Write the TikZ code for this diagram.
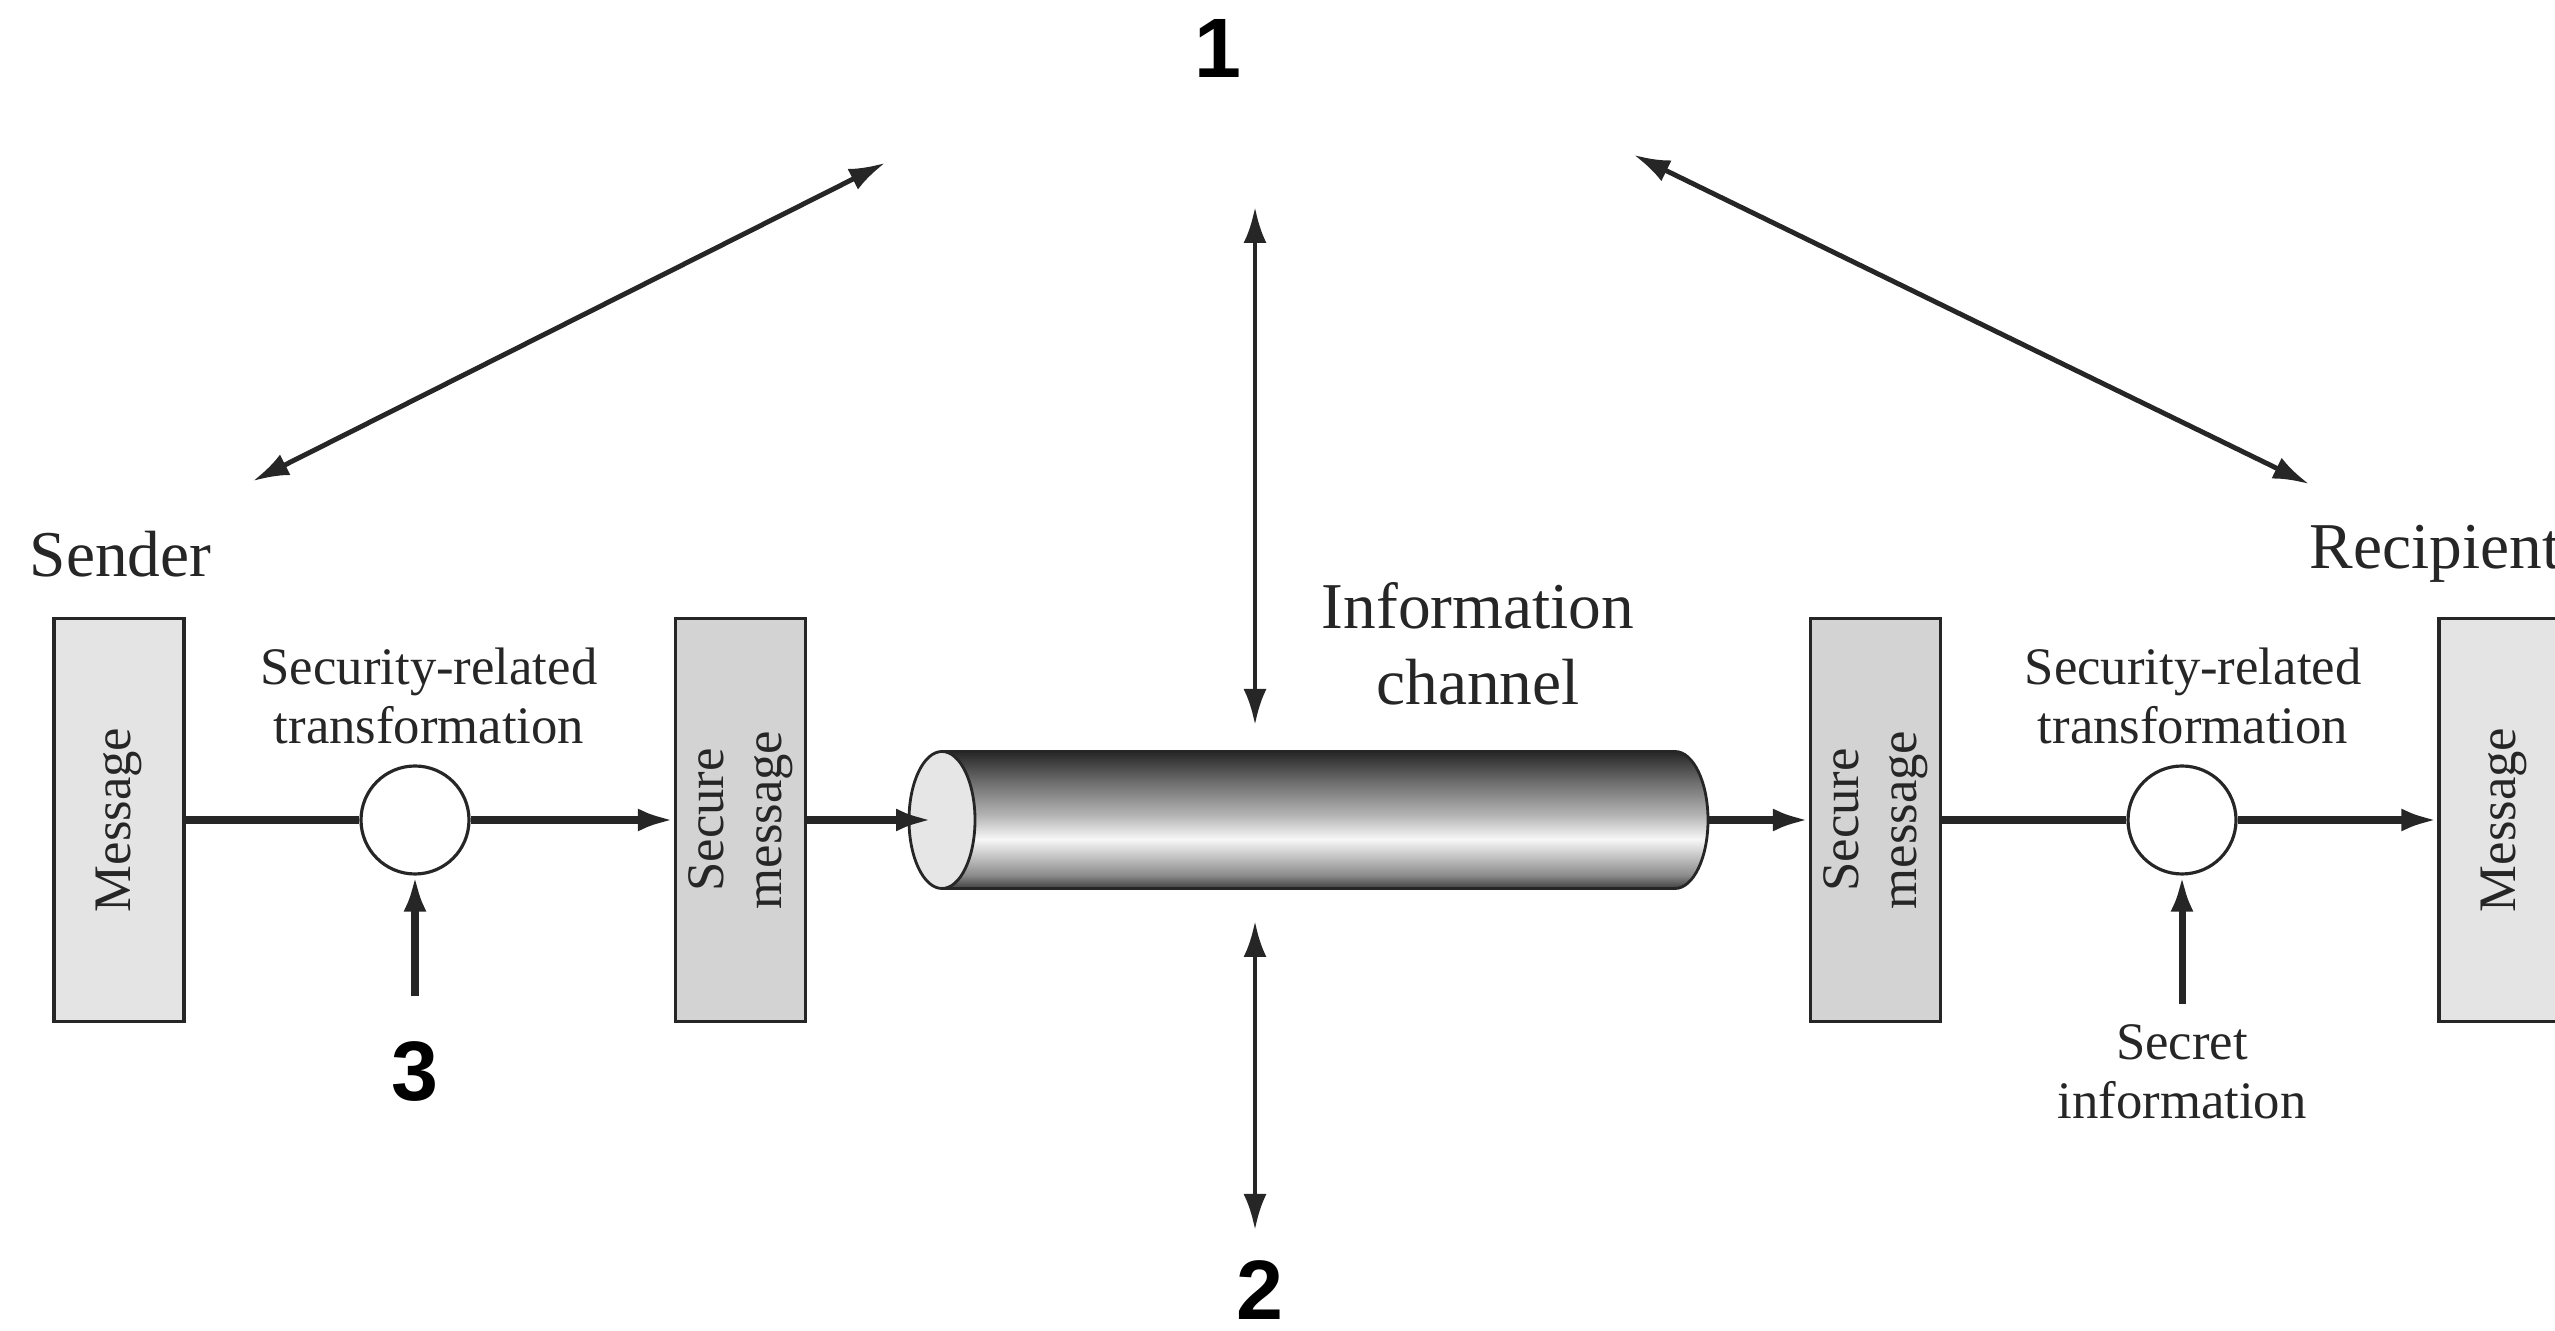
\documentclass[tikz,border=0pt]{standalone}
\usepackage{fontspec}
\setmainfont{Liberation Serif}
\newfontfamily\numfont{Liberation Sans}
\usetikzlibrary{arrows.meta}
\definecolor{msgfill}{HTML}{E4E4E4}
\definecolor{secfill}{HTML}{D3D3D3}
\definecolor{facefill}{HTML}{E6E6E6}
\definecolor{ink}{HTML}{262626}
% pipe body: dark rim, bright band a third up from the bottom
\pgfdeclareverticalshading{pipe}{100bp}{color(0bp)=(black!75); color(25bp)=(black!75); color(30bp)=(black!45); color(43bp)=(black!3); color(52bp)=(black!30); color(63bp)=(black!55); color(75bp)=(black!85); color(100bp)=(black!85)}

\begin{document}
\begin{tikzpicture}[
  box/.style={draw=ink,line width=0.9pt,minimum width=1.3cm,minimum height=4.03cm,inner sep=0pt},
  msg/.style={box,fill=msgfill},
  smsg/.style={box,fill=secfill},
  boxtext/.style={rotate=90,align=center,inner sep=0pt,text=ink,font=\fontsize{15}{16.5}\selectfont},
  xform/.style={circle,draw=ink,line width=0.9pt,fill=white,minimum size=1.08cm,inner sep=0pt},
  lbl/.style={align=center,inner sep=0pt,text=ink,font=\fontsize{18.6}{21.5}\selectfont},
  small/.style={align=center,inner sep=0pt,text=ink,font=\fontsize{15}{16.8}\selectfont},
  num/.style={inner sep=0pt,font=\numfont\bfseries\fontsize{24}{26}\selectfont},
  flow/.style={draw=ink,line width=2pt},
  arr/.style={flow,-{Latex[length=3.6mm,width=2.3mm]}},
  both/.style={draw=ink,line width=1.4pt,{Latex[length=3.6mm,width=2.3mm]}-{Latex[length=3.6mm,width=2.3mm]}}]
  \useasboundingbox (0,0) rectangle (25.55,13.31);
  % sender side
  \node[lbl,anchor=west] (sender) at (0.29,7.77) {Sender};
  \node[msg,label={[boxtext]center:Message}] (lmsg) at (1.19,5.11) {};
  \node[xform] (lt) at (4.15,5.11) {};
  \node[small] (ltlbl) at (4.29,6.35) {Security-related\\transformation};
  \node[smsg,label={[boxtext]center:Secure\\message}] (lsec) at (7.405,5.11) {};
  \node[num] (three) at (4.15,2.59) {3};
  % channel
  \shadedraw[shading=pipe,draw=ink,line width=0.8pt] (9.42,5.795) -- (16.75,5.795)
    arc[start angle=90,end angle=-90,x radius=0.33,y radius=0.685] -- (9.42,4.425) -- cycle;
  \draw[draw=ink,line width=0.8pt,fill=facefill] (9.42,5.11) ellipse [x radius=0.33,y radius=0.685];
  \coordinate (pipein) at (9.32,5.11);
  \coordinate (pipeout) at (17.08,5.11);
  \node[lbl] (chanlbl) at (14.78,6.87) {Information\\channel};
  % recipient side
  \node[smsg,label={[boxtext]center:Secure\\message}] (rsec) at (18.755,5.11) {};
  \node[xform] (rt) at (21.82,5.11) {};
  \node[small] (rtlbl) at (21.93,6.35) {Security-related\\transformation};
  \node[small] (secret) at (21.82,2.59) {Secret\\information};
  \node[msg,label={[boxtext]center:Message}] (rmsg) at (25.04,5.11) {};
  \node[lbl,anchor=west] (recip) at (23.09,7.77) {Recipient};
  % attack points
  \node[num] (one) at (12.18,12.82) {1};
  \node[num] (two) at (12.60,0.41) {2};
  \coordinate (snd) at (2.53,8.50);
  \coordinate (sndtop) at (8.85,11.68);
  \coordinate (chtop) at (12.55,11.24);
  \coordinate (chabove) at (12.55,6.06);
  \coordinate (rcvtop) at (16.34,11.76);
  \coordinate (rcv) at (23.09,8.47);
  \coordinate (chbelow) at (12.55,4.10);
  \coordinate (chbot) at (12.55,1.01);
  % message flow
  \draw[flow] (lmsg) -- (lt); \draw[arr] (lt) -- (lsec); \draw[arr] (lsec) -- (pipein);
  \draw[arr] (pipeout) -- (rsec); \draw[flow] (rsec) -- (rt); \draw[arr] (rt) -- (rmsg);
  \draw[arr,shorten <=4.5mm] (three.north) -- (lt.south);
  \draw[arr,shorten <=2mm] (secret.north) -- (rt.south);
  \draw[both] (snd) -- (sndtop); \draw[both] (chtop) -- (chabove);
  \draw[both] (rcvtop) -- (rcv); \draw[both] (chbelow) -- (chbot);
\end{tikzpicture}
\end{document}
